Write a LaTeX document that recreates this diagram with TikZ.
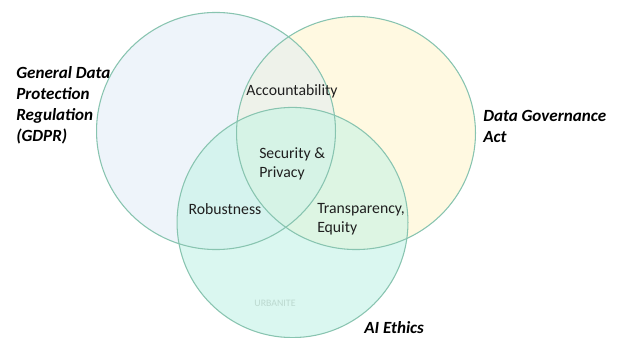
\documentclass[tikz,border=0pt]{standalone}
\usepackage{fontspec}
\setmainfont{Carlito}
\begin{document}
\begin{tikzpicture}[x=0.75pt,y=-0.75pt,
  ring/.style={draw=ringc,line width=0.8pt},
  setlabel/.style={font=\fontsize{12.8}{15.75}\selectfont\bfseries\itshape,align=left,inner sep=0pt,text=black},
  arealabel/.style={font=\fontsize{11.8}{14.3}\selectfont,align=left,inner sep=0pt,text=black!88}]
\definecolor{ringc}{HTML}{88C4B0}
\definecolor{gdprc}{HTML}{EEF4FA}
\definecolor{dgac}{HTML}{FFF9E1}
\definecolor{aic}{HTML}{DAF7F0}
\definecolor{gdc}{HTML}{EEF2EA}
\definecolor{gac}{HTML}{D5F3EE}
\definecolor{dac}{HTML}{DDF5E3}
\definecolor{allc}{HTML}{D6F3E6}
\definecolor{markc}{HTML}{BCD9D0}
\useasboundingbox[fill=white] (0,0) rectangle (617,338);
% circle geometry
\coordinate (cg) at (216,131);
\coordinate (cd) at (356,133);
\coordinate (ca) at (292.5,222.5);
\def\gdprpath{(cg) ellipse [x radius=89.6pt, y radius=88.9pt]}
\def\dgapath{(cd) ellipse [x radius=89.6pt, y radius=87.4pt]}
\def\aipath{(ca) ellipse [x radius=86.6pt, y radius=86.3pt]}
% single-set fills
\fill[gdprc] \gdprpath;
\fill[dgac] \dgapath;
\fill[aic] \aipath;
% pairwise overlaps
\begin{scope}\clip \gdprpath; \fill[gdc] \dgapath; \end{scope}
\begin{scope}\clip \gdprpath; \fill[gac] \aipath; \end{scope}
\begin{scope}\clip \dgapath; \fill[dac] \aipath; \end{scope}
% triple overlap
\begin{scope}\clip \gdprpath; \clip \dgapath; \fill[allc] \aipath; \end{scope}
% outlines
\draw[ring] \gdprpath;
\draw[ring] \dgapath;
\draw[ring] \aipath;
% set names
\node[setlabel,anchor=west] (gdpr) at (16,105) {General Data\\Protection\\Regulation\\(GDPR)};
\node[setlabel,anchor=west] (dga) at (483,126.5) {Data Governance\\Act};
\node[setlabel,anchor=west] (ai) at (364,328) {AI Ethics};
% overlap labels
\node[arealabel] (acc) at (292,91) {Accountability};
\node[arealabel,anchor=west] (sec) at (259,163.5) {Security \&\\Privacy};
\node[arealabel] (rob) at (225,209) {Robustness};
\node[arealabel,anchor=west] (tra) at (317,219.5) {Transparency,\\Equity};
\node[font=\fontsize{7.4}{8}\selectfont,text=markc,inner sep=0pt] (mark) at (275,303) {URBANITE};
\end{tikzpicture}
\end{document}
